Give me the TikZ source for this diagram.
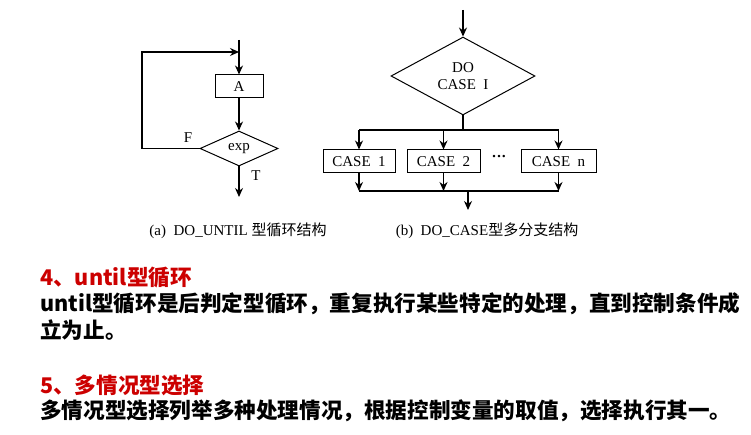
\documentclass[tikz,border=0pt]{standalone}
\usepackage{fontspec}
\setmainfont{Liberation Serif}
\newfontfamily\cjk{Noto Sans CJK SC}
\newfontfamily\sans{Liberation Sans}
\usetikzlibrary{shapes.geometric,arrows.meta}
\definecolor{hred}{RGB}{204,0,0}
\begin{document}
\begin{tikzpicture}[x=1pt,y=-1pt,
  ln/.style={line width=1.3pt},
  ar/.style={ln,-{Stealth[length=9pt,width=8pt]}},
  box/.style={draw,line width=1pt,minimum height=23pt,inner sep=0pt,font=\fontsize{15}{15}\selectfont},
  dia/.style={draw,diamond,line width=1pt,inner sep=0pt,font=\fontsize{15}{17}\selectfont,align=center},
  body/.style={anchor=west,font=\fontsize{21.6}{21.6}\selectfont\bfseries\sans\cjk,inner sep=0pt}]
\useasboundingbox (0,0) rectangle (751,435);
% (a)
\coordinate (a0) at (239,40);
\coordinate (aj) at (239,52);
\node[box,minimum width=48pt] (A) at (239,86.5) {A};
\node[dia,minimum width=78pt,minimum height=35pt] (exp) at (239,148.5) {exp};
\coordinate (aend) at (239,197);
\coordinate (l1) at (142,148.5);
\coordinate (l2) at (142,52);
\draw[ar] (a0) -- (A.north);
\draw[ar] (A.south) -- (exp.north);
\draw[ar] (exp.south) -- (aend);
\draw[ar] (exp.west) -- (l1) -- (l2) -- (aj);
\node[font=\fontsize{15}{15}\selectfont] (F) at (188,138) {F};
\node[font=\fontsize{15}{15}\selectfont] (T) at (256,176) {T};
% (b)
\coordinate (b0) at (463,10);
\node[dia,minimum width=144pt,minimum height=72pt] (D) at (463,76) {DO\\CASE\ \ I};
\coordinate (bb) at (463,130);
\node[box,minimum width=72pt] (c1) at (359,161.5) {CASE\ \ 1};
\node[box,minimum width=73pt] (c2) at (443.5,161.5) {CASE\ \ 2};
\node[box,minimum width=75pt] (cn) at (558.5,161.5) {CASE\ \ n};
\node[font=\fontsize{15}{15}\selectfont\bfseries] (dots) at (499,158) {···};
\draw[ar] (b0) -- (D.north);
\draw[ln] (D.south) -- (bb);
\draw[ln] (c1.north |- bb) -- (cn.north |- bb);
\foreach \c in {c1,c2,cn}{
  \draw[ar] (\c.north |- bb) -- (\c.north);
  \draw[ar] (\c.south) -- (\c.south |- 0,191);
}
\coordinate (m1) at (359,191);
\coordinate (m2) at (558.5,191);
\coordinate (mo) at (468,191);
\coordinate (bend) at (468,210);
\draw[ln] (m1) -- (m2);
\draw[ar] (mo) -- (bend);
% captions
\node[font=\fontsize{15}{15}\selectfont] (capa) at (238,231) {(a)\ \ DO\_UNTIL {\cjk 型循环结构}};
\node[font=\fontsize{15}{15}\selectfont] (capb) at (487,231) {(b)\ \ DO\_CASE{\cjk 型多分支结构}};
% text
\node[body,text=hred] (h4) at (40,277) {4、until型循环};
\node[body] (t1) at (40,304) {until型循环是后判定型循环，重复执行某些特定的处理，直到控制条件成};
\node[body] (t2) at (40,330) {立为止。};
\node[body,text=hred] (h5) at (40,385) {5、多情况型选择};
\node[body] (t3) at (40,411) {多情况型选择列举多种处理情况，根据控制变量的取值，选择执行其一。};
\end{tikzpicture}
\end{document}
